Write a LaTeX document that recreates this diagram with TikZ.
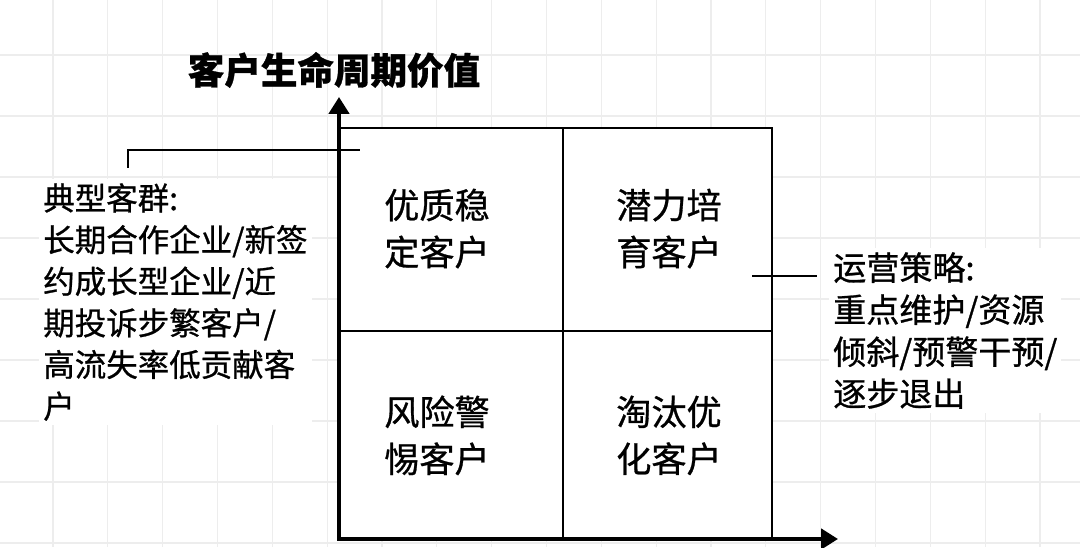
\documentclass[tikz,border=0pt]{standalone}
\usepackage{fontspec}
\setmainfont[RawFeature={embolden=0.8}]{Noto Sans CJK SC}
\usetikzlibrary{arrows.meta}

\begin{document}
\begin{tikzpicture}[
  gridline/.style={draw=black!7, line width=0.8pt},
  axis/.style={line width=2.8pt,
               arrows={Triangle[length=0.42cm,width=0.5cm]-Triangle[length=0.42cm,width=0.5cm]}},
  frame/.style={line width=1.4pt},
  divider/.style={line width=2.1pt},
  leader/.style={line width=1pt},
  quad/.style={font=\fontsize{25}{33.4}\selectfont, align=center, inner sep=0pt},
  note/.style={align=left, fill=white, inner sep=0.1cm, anchor=north west},
]

%% Canvas and grid
\useasboundingbox (0,0) rectangle (27,13.675);
\fill[white] (0,0) rectangle (27,13.675);
\foreach \k in {0,...,18} {
  \draw[gridline] ({1.325+\k*1.3708},0) -- ++(0,13.675);
}
\foreach \k in {0,...,8} {
  \draw[gridline] (0,{12.3-\k*1.525}) -- ++(27,0);
}

%% Matrix frame
\coordinate (origin) at (8.475,0.2);
\coordinate (ytip)   at (8.475,11.25);
\coordinate (xtip)   at (20.95,0.2);
\coordinate (tr)     at (19.3,10.475);
\fill[white] (origin) rectangle (tr);
\draw[frame] (origin |- tr) -- (tr) -- (tr |- origin);
\draw[divider] (14.075,0.2) -- (14.075,10.475);
\draw[divider] (8.475,5.4) -- (19.3,5.4);
\draw[axis] (ytip) -- (origin) -- (xtip);

%% Title
\node[font=\bfseries\fontsize{26}{30}\selectfont] (ttl) at (8.35,11.925) {客户生命周期价值};

%% Quadrants
\node[quad] (stable) at (10.925,7.96) {优质稳\\定客户};
\node[quad] (grow)   at (16.725,7.96) {潜力培\\育客户};
\node[quad] (risk)   at (10.925,2.79) {风险警\\惕客户};
\node[quad] (exit)   at (16.725,2.79) {淘汰优\\化客户};

%% Side notes
\node[note, font=\fontsize{22.4}{29.6}\selectfont] (grp) at (0.975,9.2)
  {典型客群:\\长期合作企业/新签\\约成长型企业/近\\期投诉步繁客户/\\高流失率低贡献客\\户};
\node[note, font=\fontsize{23.5}{29.9}\selectfont] (ops) at (20.725,7.475)
  {运营策略:\\重点维护/资源\\倾斜/预警干预/\\逐步退出};

%% Leaders
\coordinate (grptick) at (3.2,9.475);
\coordinate (grpend)  at (9.0,9.925);
\draw[leader] (grptick) |- (grpend);
\coordinate (opsbeg) at (18.8,6.775);
\coordinate (opsend) at (20.425,6.775);
\draw[leader] (opsbeg) -- (opsend);

\end{tikzpicture}
\end{document}
